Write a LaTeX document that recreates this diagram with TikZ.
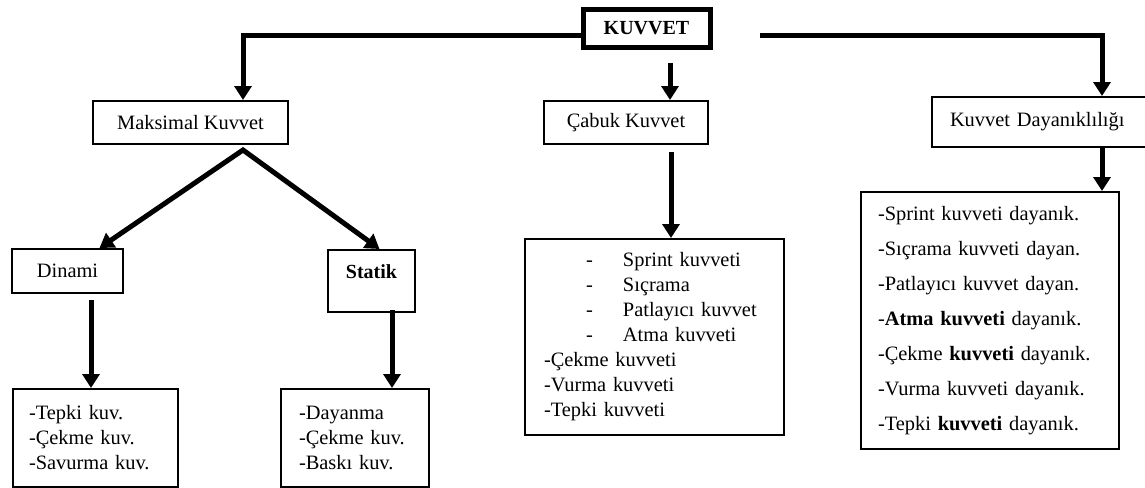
\documentclass[tikz,border=0pt]{standalone}
\usepackage{fontspec}
\setmainfont{Liberation Serif}
\usetikzlibrary{arrows.meta}
\newcommand{\dashitem}{\hspace*{21pt}\makebox[18.5pt][l]{-}}

\begin{document}
\begin{tikzpicture}[x=0.5pt,y=-0.5pt,
  box/.style={draw,line width=1pt,inner sep=0pt,font=\fontsize{10.2}{12}\selectfont},
  listbox/.style={draw,line width=1pt,align=left,font=\fontsize{10.2}{12.5}\selectfont},
  arr/.style={line width=2.5pt,-{Triangle[width=8.5pt,length=7pt]}}]
  \useasboundingbox (0,0) rectangle (1145,487);
  \clip (0,0) rectangle (1145,487);
  \fill[white] (0,0) rectangle (1145,487);
  % top
  \node[draw,line width=2.5pt,minimum width=63.5pt,minimum height=19pt,
    font=\bfseries\fontsize{10}{12}\selectfont] (kuvvet) at (646.5,28) {KUVVET};
  % second row
  \node[box,minimum width=97.5pt,minimum height=21.5pt] (maks) at (190.5,122.5) {Maksimal Kuvvet};
  \node[box,minimum width=82pt,minimum height=21.5pt] (cabuk) at (626,122.5) {Çabuk Kuvvet};
  \node[box,anchor=west,align=left,text width=112pt,inner xsep=9pt,minimum height=25pt]
    (kday) at (931,122) {Kuvvet Dayanıklılığı};
  % third row
  \node[box,minimum width=55.5pt,minimum height=22pt] (dinami) at (67.5,271) {Dinami};
  \node[box,anchor=north,minimum width=43.5pt,text height=11pt,text depth=14pt,inner ysep=3pt,
    font=\bfseries\fontsize{10}{12}\selectfont] (statik) at (371.5,249) {Statik};
  % lists
  \node[listbox,anchor=north west,text width=66.5pt,inner xsep=8pt,minimum height=49pt]
    (dlist) at (12,388) {-Tepki kuv.\\-Çekme kuv.\\-Savurma kuv.};
  \node[listbox,anchor=north west,text width=56pt,inner xsep=9pt,minimum height=49pt]
    (slist) at (280,388) {-Dayanma\\-Çekme kuv.\\-Baskı kuv.};
  \node[listbox,anchor=north west,text width=110.5pt,inner xsep=9.5pt,minimum height=98pt]
    (clist) at (524,238) {\dashitem Sprint kuvveti\\\dashitem Sıçrama\\
      \dashitem Patlayıcı kuvvet\\\dashitem Atma kuvveti\\
      -Çekme kuvveti\\-Vurma kuvveti\\-Tepki kuvveti};
  \node[listbox,anchor=north west,text width=112pt,inner xsep=8.5pt,minimum height=128.5pt,
    font=\fontsize{10.2}{17.5}\selectfont]
    (rlist) at (860,191) {-Sprint kuvveti dayanık.\\-Sıçrama kuvveti dayan.\\
      -Patlayıcı kuvvet dayan.\\-\textbf{Atma kuvveti} dayanık.\\
      -Çekme \textbf{kuvveti} dayanık.\\-Vurma kuvveti dayanık.\\
      -Tepki \textbf{kuvveti} dayanık.};
  % connectors
  \coordinate (kL) at (243,35);
  \coordinate (kRs) at (760,35);
  \coordinate (kR) at (1102,35);
  \coordinate (kC) at (670,63);
  \coordinate (cC) at (671,152);
  \coordinate (apex) at (243,150);
  \coordinate (dA) at (91,300);
  \coordinate (sA) at (392,310);
  \draw[arr] (kuvvet.west |- kL) -- (kL) -- (kL |- maks.north);
  \draw[arr] (kRs) -- (kR) -- (kR |- kday.north);
  \draw[arr] (kC) -- (kC |- cabuk.north);
  \draw[arr] (cC) -- (cC |- clist.north);
  \draw[arr] (kday.south -| kR) -- (kR |- rlist.north);
  \draw[line width=2.5pt,{Triangle[width=8.5pt,length=7pt]}-{Triangle[width=8.5pt,length=7pt]}]
    ([xshift=16pt]dinami.north) -- (apex) -- ([xshift=4pt]statik.north);
  \draw[arr] (dA) -- (dA |- dlist.north);
  \draw[arr] (sA) -- (sA |- slist.north);
\end{tikzpicture}
\end{document}
